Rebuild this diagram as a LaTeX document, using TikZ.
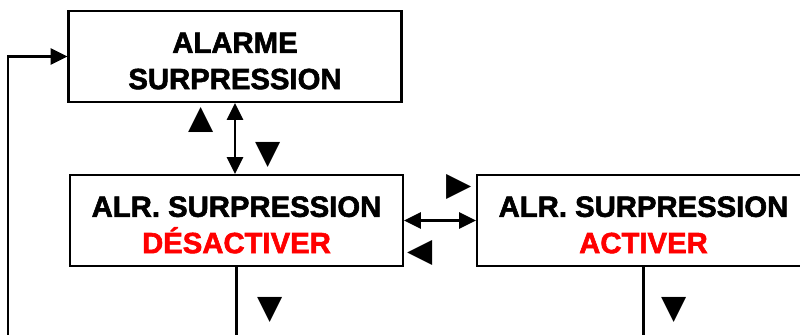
\documentclass[tikz,border=0pt]{standalone}
\usepackage{fontspec}
\setmainfont{Liberation Sans}[BoldFeatures={FakeBold=2}]
\newfontfamily\symfont{DejaVu Sans}
\definecolor{AlarmRed}{RGB}{255,0,0}
\usetikzlibrary{positioning, arrows.meta, calc}
\newcommand{\menustrut}{\rule{0pt}{25pt}}

\begin{document}
\begin{tikzpicture}[x=0.03cm, y=-0.03cm,
    menubox/.style={draw, line width=1.9pt, minimum width=333*0.03cm, minimum height=91*0.03cm,
      inner sep=0pt, align=center, font=\fontsize{25}{31}\selectfont\bfseries},
    keymark/.style={inner sep=0pt, font=\symfont\fontsize{28}{28}\selectfont},
    link/.style={line width=1.9pt, {Triangle[length=5mm, width=4.8mm]}-{Triangle[length=5mm, width=4.8mm]}},
    wire/.style={line width=1.9pt}]
  \useasboundingbox (0,0) rectangle (800,335);
  \node[menubox] (alarm) at (235,56.5) {\menustrut ALARME\\SURPRESSION};
  \node[menubox] (off) at (236.5,220.5) {\menustrut ALR. SURPRESSION\\\textcolor{AlarmRed}{DÉSACTIVER}};
  \node[menubox] (on) at (643.5,220.5) {\menustrut ALR. SURPRESSION\\\textcolor{AlarmRed}{ACTIVER}};
  \coordinate (offout) at (236.5,345);
  \coordinate (back) at (8,345);
  % links between menus
  \draw[link] (alarm.south) -- (alarm.south |- off.north);
  \draw[link] (off.east) -- (on.west);
  \draw[wire] (off.south) -- (offout);
  \draw[wire] (on.south) -- (on.south |- offout);
  \draw[wire, -{Triangle[length=5mm, width=4.8mm]}] (back) |- (alarm.west);
  % key hints
  \node[keymark] (keyup) at (201,120) {▲};
  \node[keymark] (keydown) at (268,155) {▼};
  \node[keymark] (keyright) at (459,187) {▶};
  \node[keymark] (keyleft) at (420,253) {◀};
  \node[keymark] (offdown) at (270,310) {▼};
  \node[keymark] (ondown) at (674,310) {▼};
\end{tikzpicture}
\end{document}
